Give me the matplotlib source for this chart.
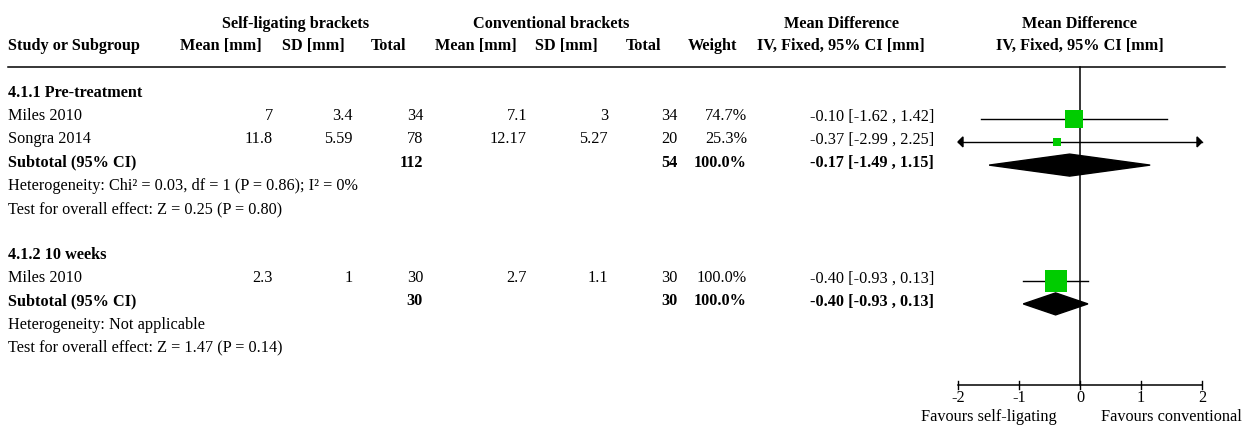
import matplotlib
matplotlib.use("Agg")
import matplotlib.pyplot as plt
from matplotlib.patches import Polygon

plt.rcParams["font.family"] = ["Liberation Serif", "DejaVu Serif"]
plt.rcParams["font.size"] = 11.7

# サブグループ 4.1.1 Pre-treatment
sub1_title = "4.1.1 Pre-treatment"
sub1_studies = ["Miles 2010", "Songra 2014"]
sub1_sl_mean = [7, 11.8]
sub1_sl_sd = [3.4, 5.59]
sub1_sl_n = [34, 78]
sub1_cv_mean = [7.1, 12.17]
sub1_cv_sd = [3, 5.27]
sub1_cv_n = [34, 20]
sub1_weight = [74.7, 25.3]
sub1_md = [-0.10, -0.37]
sub1_lo = [-1.62, -2.99]
sub1_hi = [1.42, 2.25]
sub1_total = (-0.17, -1.49, 1.15)
sub1_het = "Heterogeneity: Chi² = 0.03, df = 1 (P = 0.86); I² = 0%"
sub1_test = "Test for overall effect: Z = 0.25 (P = 0.80)"

# サブグループ 4.1.2 10 weeks
sub2_title = "4.1.2 10 weeks"
sub2_studies = ["Miles 2010"]
sub2_sl_mean = [2.3]
sub2_sl_sd = [1]
sub2_sl_n = [30]
sub2_cv_mean = [2.7]
sub2_cv_sd = [1.1]
sub2_cv_n = [30]
sub2_weight = [100.0]
sub2_md = [-0.40]
sub2_lo = [-0.93]
sub2_hi = [0.13]
sub2_total = (-0.40, -0.93, 0.13)
sub2_het = "Heterogeneity: Not applicable"
sub2_test = "Test for overall effect: Z = 1.47 (P = 0.14)"

axis_ticks = [-2, -1, 0, 1, 2]
x_min, x_max = -2, 2

W, H = 1251, 426
fig = plt.figure(figsize=(W / 100, H / 100), dpi=100)

# 表の部分（ピクセル座標）
tab = fig.add_axes([0, 0, 1, 1])
tab.set_xlim(0, W)
tab.set_ylim(H, 0)
tab.axis("off")

# フォレストプロットの部分（x はデータ座標、y はピクセル）
ax = fig.add_axes([958 / W, 0, 244 / W, 1])
ax.set_xlim(x_min, x_max)
ax.set_ylim(H, 0)
ax.axis("off")

# 文字はベースラインで揃える（行の中心 + 5px）
BL = 5


def put(a, x, y, s, **kw):
    a.text(x, y + BL, s, va="baseline", clip_on=False, **kw)


# 列の右端
col_sl_mean, col_sl_sd, col_sl_n = 273, 353, 423
col_cv_mean, col_cv_sd, col_cv_n = 527, 608, 678
col_weight, col_ci = 747, 934

# 見出し
hb = dict(fontweight="bold")
put(tab, 296, 23, "Self-ligating brackets", ha="center", **hb)
put(tab, 551, 23, "Conventional brackets", ha="center", **hb)
put(tab, 841, 23, "Mean Difference", ha="center", **hb)
put(tab, 1080, 23, "Mean Difference", ha="center", **hb)
put(tab, 8, 45, "Study or Subgroup", ha="left", **hb)
put(tab, 262, 45, "Mean [mm]", ha="right", **hb)
put(tab, 345, 45, "SD [mm]", ha="right", **hb)
put(tab, 406, 45, "Total", ha="right", **hb)
put(tab, 517, 45, "Mean [mm]", ha="right", **hb)
put(tab, 598, 45, "SD [mm]", ha="right", **hb)
put(tab, 661, 45, "Total", ha="right", **hb)
put(tab, 737, 45, "Weight", ha="right", **hb)
put(tab, 841, 45, "IV, Fixed, 95% CI [mm]", ha="center", **hb)
put(tab, 1080, 45, "IV, Fixed, 95% CI [mm]", ha="center", **hb)
tab.plot([8, 1225], [67, 67], color="black", lw=1.1)

green = "#00cc00"
mark_dy = 3.5
row_h = 23.2


def ci_text(m, lo, hi):
    return f"{m:.2f} [{lo:.2f} , {hi:.2f}]"


def draw_group(y, title, studies, slm, sls, sln, cvm, cvs, cvn, wt, md, lo, hi, total, het, test):
    put(tab, 8, y, title, fontweight="bold")
    y += row_h
    for i, name in enumerate(studies):
        put(tab, 8, y, name)
        put(tab, col_sl_mean, y, f"{slm[i]:g}", ha="right")
        put(tab, col_sl_sd, y, f"{sls[i]:g}", ha="right")
        put(tab, col_sl_n, y, f"{sln[i]}", ha="right")
        put(tab, col_cv_mean, y, f"{cvm[i]:g}", ha="right")
        put(tab, col_cv_sd, y, f"{cvs[i]:g}", ha="right")
        put(tab, col_cv_n, y, f"{cvn[i]}", ha="right")
        put(tab, col_weight, y, f"{wt[i]:.1f}%", ha="right")
        put(tab, col_ci, y, ci_text(md[i], lo[i], hi[i]), ha="right")

        ym = y + mark_dy
        a, b = max(lo[i], x_min), min(hi[i], x_max)
        ax.plot([a, b], [ym, ym], color="black", lw=1.0, clip_on=False, zorder=2)
        # 範囲外の信頼区間は矢印で示す
        hw = 5 / 61
        if lo[i] < x_min:
            ax.add_patch(Polygon([(x_min, ym), (x_min + hw, ym - 5), (x_min + hw, ym + 5)],
                                 closed=True, color="black", clip_on=False))
        if hi[i] > x_max:
            ax.add_patch(Polygon([(x_max, ym), (x_max - hw, ym - 5), (x_max - hw, ym + 5)],
                                 closed=True, color="black", clip_on=False))
        size_px = 3.5 + 18.5 * wt[i] / 100
        ax.plot(md[i], ym, marker="s", ms=size_px * 0.72, color=green, mec=green,
                mew=0, linestyle="none", zorder=3, clip_on=False)
        y += row_h

    # 小計
    bold = dict(fontweight="bold")
    put(tab, 8, y, "Subtotal (95% CI)", **bold)
    put(tab, col_sl_n, y, f"{sum(sln)}", ha="right", **bold)
    put(tab, col_cv_n, y, f"{sum(cvn)}", ha="right", **bold)
    put(tab, col_weight, y, f"{sum(wt):.1f}%", ha="right", **bold)
    put(tab, col_ci, y, ci_text(*total), ha="right", **bold)
    m, lo_t, hi_t = total
    ym = y + mark_dy
    ax.add_patch(Polygon([(lo_t, ym), (m, ym - 11), (hi_t, ym), (m, ym + 11)],
                         closed=True, color="black", zorder=3, clip_on=False))
    y += row_h
    put(tab, 8, y, het)
    y += row_h
    put(tab, 8, y, test)
    return y + row_h


draw_group(92, sub1_title, sub1_studies, sub1_sl_mean, sub1_sl_sd, sub1_sl_n,
           sub1_cv_mean, sub1_cv_sd, sub1_cv_n, sub1_weight, sub1_md, sub1_lo,
           sub1_hi, sub1_total, sub1_het, sub1_test)
draw_group(254, sub2_title, sub2_studies, sub2_sl_mean, sub2_sl_sd, sub2_sl_n,
           sub2_cv_mean, sub2_cv_sd, sub2_cv_n, sub2_weight, sub2_md, sub2_lo,
           sub2_hi, sub2_total, sub2_het, sub2_test)

# ゼロ線と下の目盛り
axis_y = 385
ax.plot([0, 0], [67, axis_y], color="black", lw=1.1, clip_on=False, zorder=1)
ax.plot([x_min, x_max], [axis_y, axis_y], color="black", lw=1.1, clip_on=False)
for t in axis_ticks:
    ax.plot([t, t], [axis_y - 4, axis_y + 4], color="black", lw=1.0, clip_on=False)
    put(ax, t, 397, f"{t}", ha="center")
put(ax, -1.5, 416, "Favours self-ligating", ha="center")
put(ax, 1.5, 416, "Favours conventional", ha="center")

fig.savefig("out.png", dpi=100)
